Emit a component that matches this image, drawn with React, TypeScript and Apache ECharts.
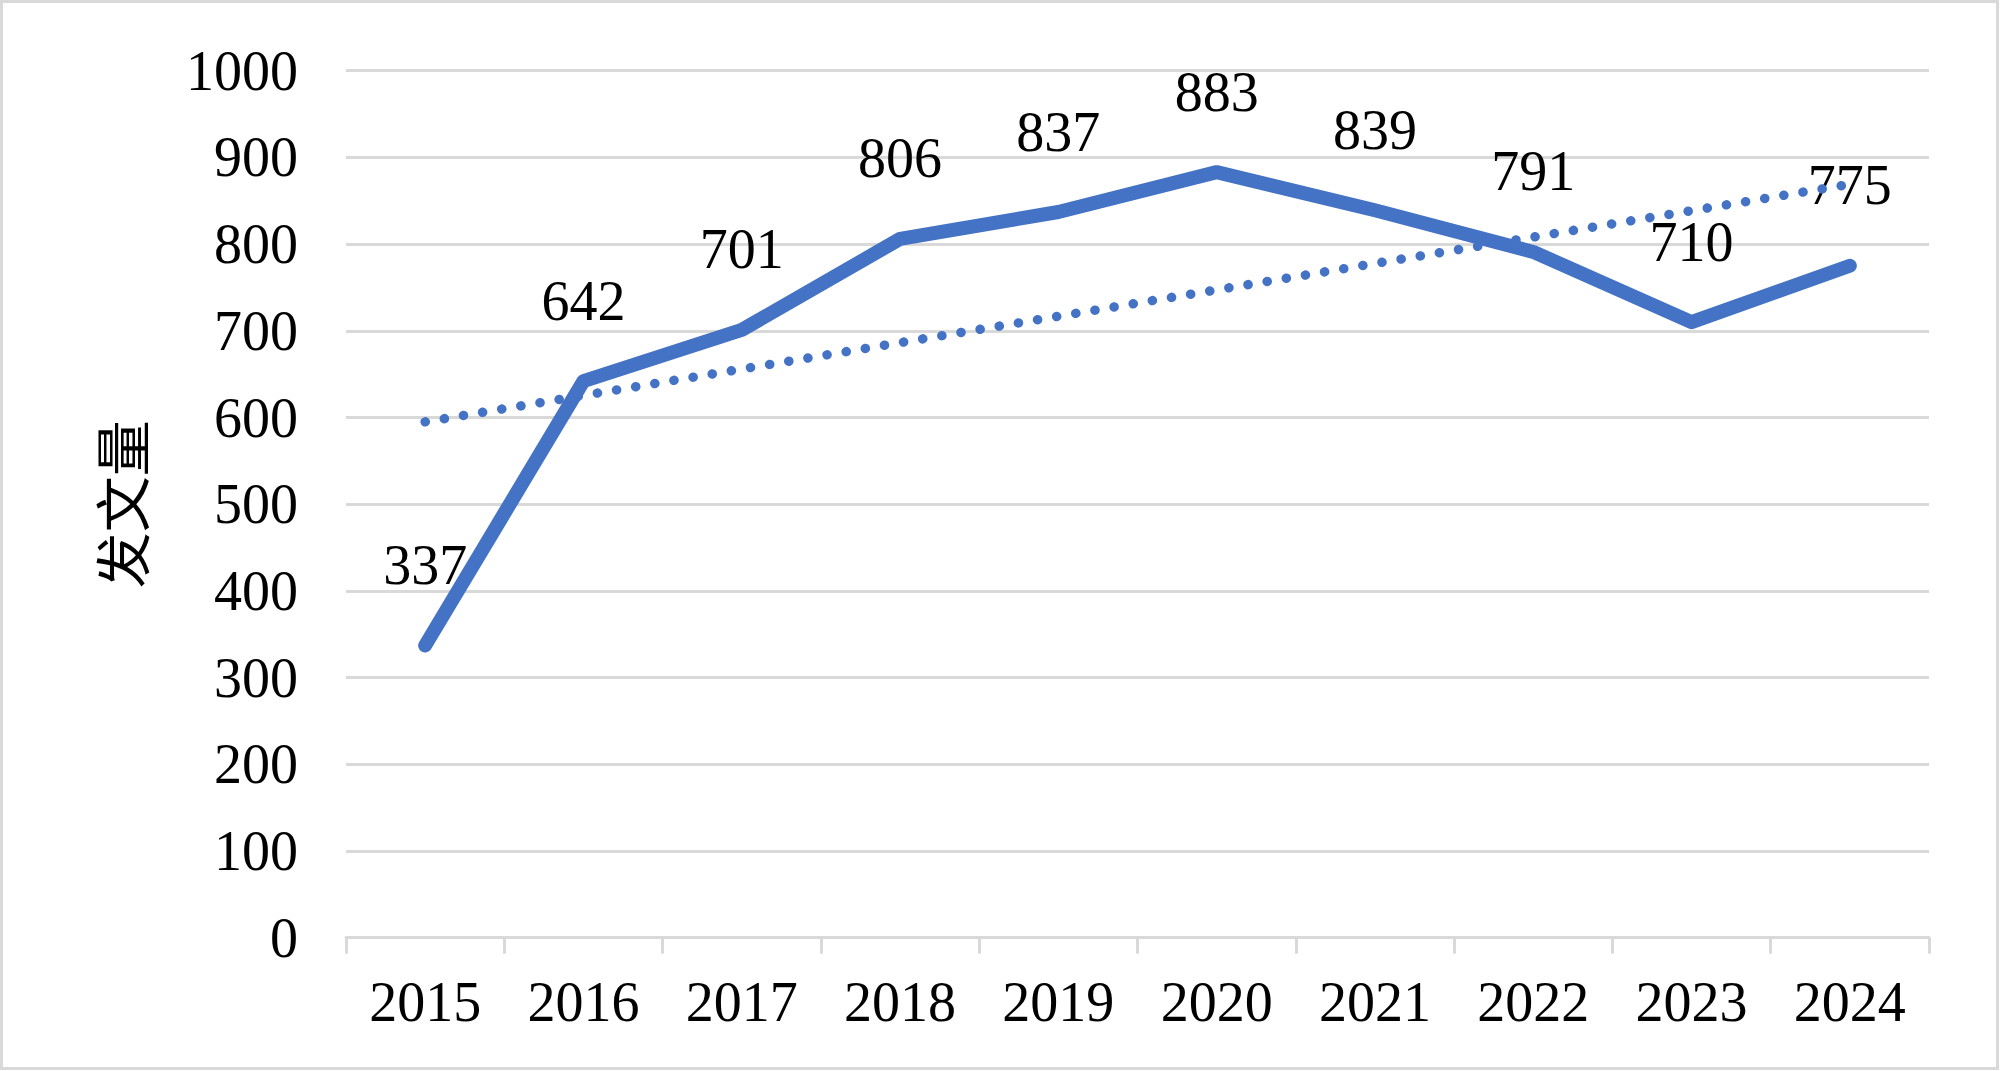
import React, { useEffect, useRef } from "react";
import * as echarts from "echarts";

const categories: string[] = ["2015", "2016", "2017", "2018", "2019", "2020", "2021", "2022", "2023", "2024"];
const publications: number[] = [337, 642, 701, 806, 837, 883, 839, 791, 710, 775];
// Linear trendline endpoints (first and last category)
const trendStart: number = 595;
const trendEnd: number = 869;
const yTicks = { min: 0, max: 1000, interval: 100 };
const yAxisName = "发文量";

const FONT = "'Liberation Serif', 'Times New Roman', 'Noto Sans CJK SC', serif";
const BLUE = "#4472C4";
const GRID_GRAY = "#d9d9d9";

export default function App() {
  const ref = useRef<HTMLDivElement>(null);

  useEffect(() => {
    if (!ref.current) return;
    const chart = echarts.init(ref.current, undefined, { renderer: "svg" });
    chart.setOption({
      animation: false,
      backgroundColor: "#ffffff",
      textStyle: { fontFamily: FONT },
      graphic: [
        {
          type: "rect",
          shape: { x: 1.5, y: 1.5, width: 1996, height: 1067 },
          style: { fill: "none", stroke: GRID_GRAY, lineWidth: 3 },
          silent: true,
          z: 0,
        },
      ],
      grid: { left: 346, right: 71, top: 70.7, bottom: 133.3, containLabel: false },
      xAxis: {
        type: "category",
        data: categories,
        boundaryGap: true,
        axisLine: { show: true, lineStyle: { color: GRID_GRAY, width: 3 } },
        axisTick: { show: true, length: 16, alignWithLabel: false, lineStyle: { color: GRID_GRAY, width: 3 } },
        axisLabel: { color: "#000", fontSize: 56, fontFamily: FONT, margin: 36 },
        splitLine: { show: false },
      },
      yAxis: {
        type: "value",
        min: yTicks.min,
        max: yTicks.max,
        interval: yTicks.interval,
        name: yAxisName,
        nameLocation: "middle",
        nameRotate: 90,
        nameGap: 193,
        nameTextStyle: { color: "#000", fontSize: 56, fontFamily: FONT },
        axisLine: { show: false },
        axisTick: { show: false },
        axisLabel: {
          color: "#000",
          fontSize: 56,
          fontFamily: FONT,
          margin: 48,
          formatter: (v: number) => String(v),
        },
        splitLine: { show: true, lineStyle: { color: GRID_GRAY, width: 3 } },
      },
      series: [
        {
          type: "line",
          data: publications,
          symbol: "circle",
          symbolSize: 1,
          showSymbol: true,
          itemStyle: { color: "rgba(0,0,0,0)" },
          lineStyle: { color: BLUE, width: 14, cap: "round", join: "round" },
          label: {
            show: true,
            position: "top",
            distance: 52,
            color: "#000",
            fontSize: 56,
            fontFamily: FONT,
          },
          z: 2,
        },
        {
          type: "line",
          data: [
            [categories[0], trendStart],
            [categories[categories.length - 1], trendEnd],
          ],
          symbol: "none",
          silent: true,
          lineStyle: { color: BLUE, width: 9.5, type: [0.1, 19.3], cap: "round" },
          z: 3,
        },
      ],
    });
    return () => chart.dispose();
  }, []);

  return (
    <div
      ref={ref}
      style={{ position: "absolute", left: 0, top: 0, width: 2000, height: 1071 }}
    />
  );
}
